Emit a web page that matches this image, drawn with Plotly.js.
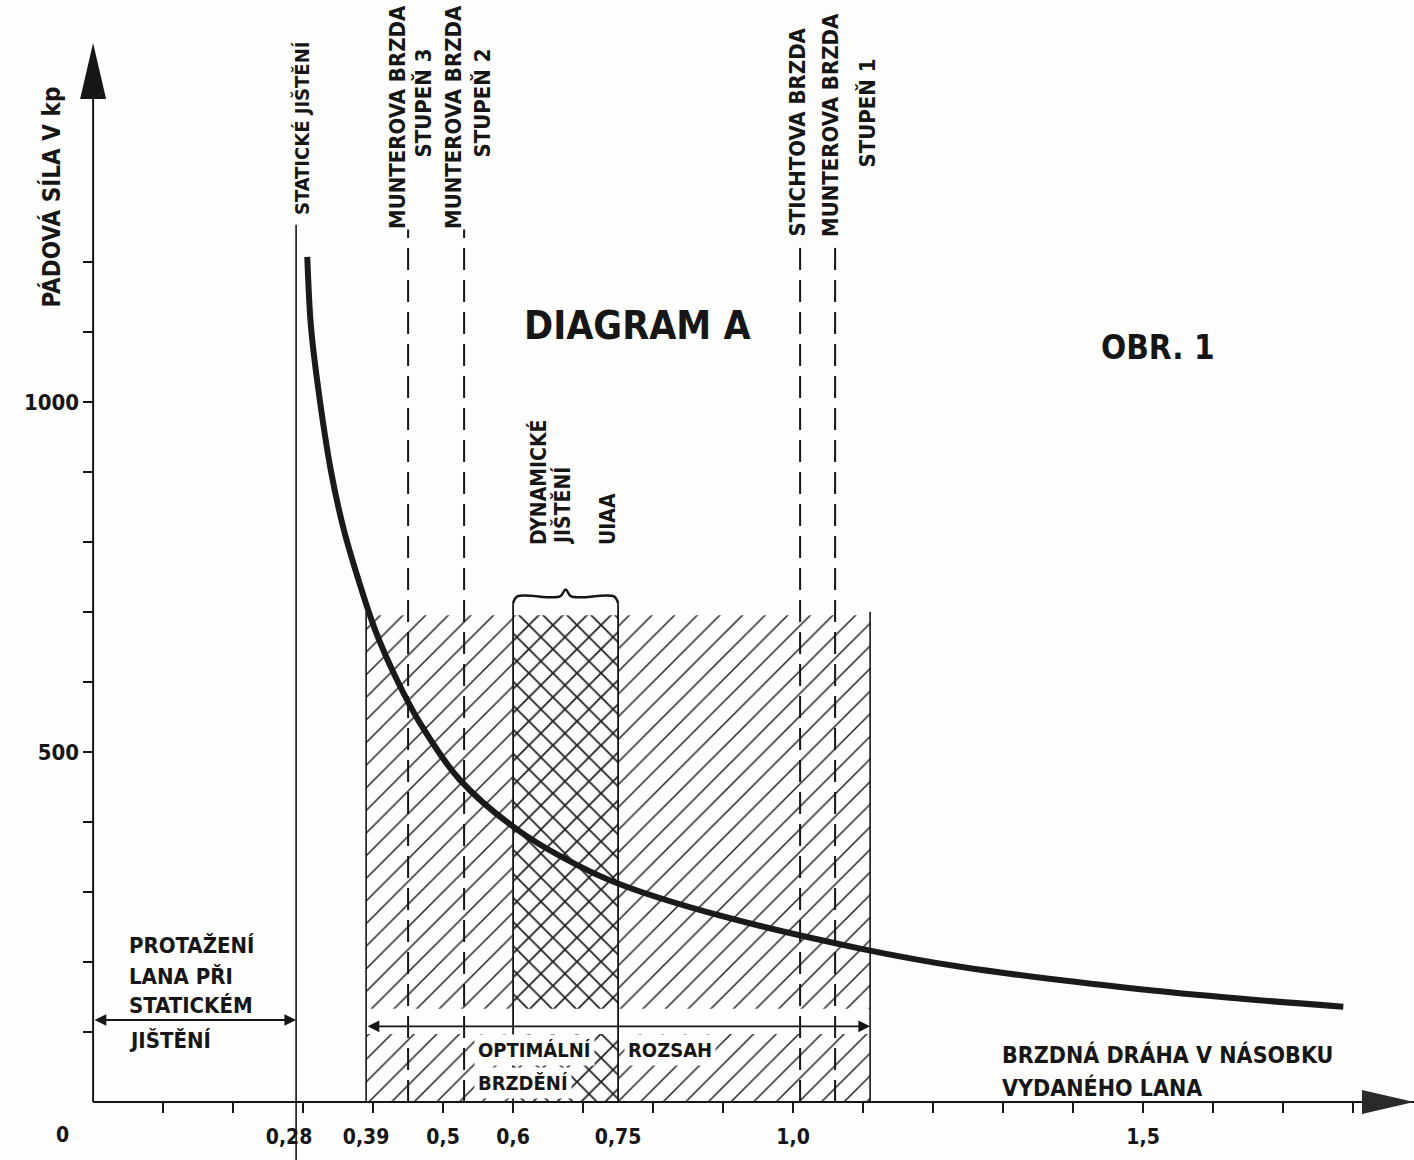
<!DOCTYPE html>
<html>
<head>
<meta charset="utf-8">
<script src="https://cdn.plot.ly/plotly-3.0.1.min.js"></script>
<style>html,body{margin:0;padding:0;background:#fdfdfc}#chart{width:1414px;height:1160px}</style>
</head>
<body>
<div id="chart"></div>
<script>
// ---------------- DATA ----------------
// Pádová síla (kp) vs. brzdná dráha (násobek vydaného lana)
const curveX = [0.306, 0.311, 0.320, 0.340, 0.358, 0.379, 0.403, 0.434, 0.467, 0.524, 0.610, 0.706, 0.763, 0.896, 1.096, 1.239, 1.467, 1.620, 1.786];
const curveY = [1207, 1110, 1031, 900, 818, 746, 674, 603, 541, 460, 386, 331, 307, 266, 219, 193, 164, 149, 136];

// vertical markers
const staticX = 0.29;                 // statické jištění
const staticTop = 1253;
const brakeX = [0.45, 0.53, 1.01, 1.06];   // Munter 3, Munter 2, Sticht, Munter 1
const brakeTop = [1246, 1246, 1232, 1232];

// ranges
const optRange = [0.39, 1.11];        // optimální rozsah brzdění
const dynRange = [0.60, 0.75];        // dynamické jištění UIAA
const hatchTop = 695;
const hatchUpperBase = 133;
const hatchLowerTop = 97;
const optArrowY = 108;
const staticArrowY = 117;
const bracketY = 722;

// axis ticks
const xMinorTicks = [0.1, 0.2, 0.3, 0.4, 0.5, 0.6, 0.7, 0.8, 0.9, 1.0, 1.1, 1.2, 1.3, 1.4, 1.5, 1.6, 1.7, 1.8];
const xTickVals = [0.28, 0.39, 0.5, 0.6, 0.75, 1.0, 1.5];
const xTickText = ['0,28', '0,39', '0,5', '0,6', '0,75', '1,0', '1,5'];
const yMinorTicks = [100, 200, 300, 400, 500, 600, 700, 800, 900, 1000, 1100, 1200];
const yTickVals = [500, 1000];
const yTickText = ['500', '1000'];

// ---------------- LAYOUT HELPERS ----------------
const W = 1414, H = 1160;
const xRange = [-0.133, 1.887];
const yRange = [-83, 1574];
const px2x = p => xRange[0] + p / W * (xRange[1] - xRange[0]);
const py2y = p => yRange[1] - p / H * (yRange[1] - yRange[0]);
const ink = '#161616';
const FONT = '"DejaVu Sans Condensed", "Liberation Sans Narrow", "DejaVu Sans", sans-serif';
const f = (size) => ({family: FONT, size: size, color: ink, weight: 'bold'});

const xAxisPos = (0 - yRange[0]) / (yRange[1] - yRange[0]);
const yAxisPos = (0 - xRange[0]) / (xRange[1] - xRange[0]);
const yAxisTop = py2y(43);

// ---------------- TRACES ----------------
const seg = (a, b) => ({c: (a + b) / 2, w: b - a});
const hatchSegs = [seg(optRange[0], dynRange[0]), seg(dynRange[1], optRange[1])];
const crossSeg = seg(dynRange[0], dynRange[1]);

const patt = (shape, size, solidity) => ({
  color: 'rgba(0,0,0,0)',
  line: {width: 0},
  pattern: {shape: shape, fgcolor: '#1e1e1e', bgcolor: 'rgba(0,0,0,0)', size: size, solidity: solidity, fillmode: 'replace'}
});

const traces = [
  {
    type: 'bar', name: 'optimální rozsah',
    x: [hatchSegs[0].c, hatchSegs[1].c, hatchSegs[0].c, hatchSegs[1].c],
    width: [hatchSegs[0].w, hatchSegs[1].w, hatchSegs[0].w, hatchSegs[1].w],
    base: [hatchUpperBase, hatchUpperBase, 0, 0],
    y: [hatchTop - hatchUpperBase, hatchTop - hatchUpperBase, hatchLowerTop, hatchLowerTop],
    marker: patt('/', 16, 0.09), hoverinfo: 'skip', showlegend: false
  },
  {
    type: 'bar', name: 'dynamické jištění UIAA',
    x: [crossSeg.c, crossSeg.c],
    width: [crossSeg.w, crossSeg.w],
    base: [hatchUpperBase, 0],
    y: [hatchTop - hatchUpperBase, hatchLowerTop],
    marker: patt('x', 17, 0.2), hoverinfo: 'skip', showlegend: false
  },
  {
    type: 'scatter', mode: 'lines', name: 'bracket',
    x: [dynRange[0], dynRange[0] + 0.006, (dynRange[0] + dynRange[1]) / 2 - 0.008, (dynRange[0] + dynRange[1]) / 2, (dynRange[0] + dynRange[1]) / 2 + 0.008, dynRange[1] - 0.006, dynRange[1]],
    y: [bracketY - 10, bracketY, bracketY, bracketY + 10, bracketY, bracketY, bracketY - 10],
    line: {color: ink, width: 2.5, shape: 'spline'}, hoverinfo: 'skip', showlegend: false
  },
  {
    type: 'scatter', mode: 'lines', name: 'pádová síla',
    x: curveX, y: curveY,
    line: {color: '#1a1a1a', width: 6, shape: 'spline', smoothing: 1},
    hoverinfo: 'skip', showlegend: false
  },
  {type: 'scatter', x: [], y: [], xaxis: 'x2', yaxis: 'y2', showlegend: false}
];

// ---------------- SHAPES ----------------
const shapes = [];
// axes
shapes.push({type: 'line', xref: 'x', yref: 'y', x0: 0, x1: 0, y0: 0, y1: yAxisTop - 40, line: {color: ink, width: 2}});
shapes.push({type: 'line', xref: 'x', yref: 'y', x0: 0, x1: xRange[1], y0: 0, y1: 0, line: {color: ink, width: 2}});
shapes.push({type: 'path', xref: 'x', yref: 'y', xsizemode: 'pixel', ysizemode: 'pixel', xanchor: 0, yanchor: yAxisTop,
  path: 'M0,0 L-13,-56 L13,-56 Z', fillcolor: ink, line: {width: 0}});
shapes.push({type: 'path', xref: 'x', yref: 'y', xsizemode: 'pixel', ysizemode: 'pixel', xanchor: xRange[1], yanchor: 0,
  path: 'M0,0 L-52,12 L-52,-12 Z', fillcolor: '#2a2a2a', line: {width: 0}});
// static line
shapes.push({type: 'line', xref: 'x', yref: 'y', x0: staticX, x1: staticX, y0: yRange[0], y1: staticTop, line: {color: ink, width: 1.6}});
// brake dashed lines
brakeX.forEach((bx, i) => shapes.push({type: 'line', xref: 'x', yref: 'y', x0: bx, x1: bx, y0: 0, y1: brakeTop[i],
  line: {color: ink, width: 2, dash: '22px,10px'}}));
// hatch borders
optRange.forEach(ox => shapes.push({type: 'line', xref: 'x', yref: 'y', x0: ox, x1: ox, y0: 0, y1: hatchTop + 5, line: {color: ink, width: 1.6}}));
dynRange.forEach(dx => shapes.push({type: 'line', xref: 'x', yref: 'y', x0: dx, x1: dx, y0: 0, y1: bracketY - 10, line: {color: ink, width: 1.8}}));

// ---------------- ANNOTATIONS ----------------
const ann = [];
const txt = (text, pxX, pxY, size, opts) => Object.assign({
  text: text, xref: 'x', yref: 'y', x: px2x(pxX), y: py2y(pxY), showarrow: false, font: f(size)
}, opts || {});
const vtxt = (text, pxX, pxBottom, size) => txt(text, pxX, pxBottom, size, {textangle: -90, xanchor: 'center', yanchor: 'bottom'});

ann.push(vtxt('PÁDOVÁ SÍLA V kp', 51, 310, 24));
ann.push(vtxt('STATICKÉ JIŠTĚNÍ', 302, 217, 20));
ann.push(vtxt('MUNTEROVA BRZDA', 397, 231, 22));
ann.push(vtxt('STUPEŇ 3', 423, 160, 22));
ann.push(vtxt('MUNTEROVA BRZDA', 453, 231, 22));
ann.push(vtxt('STUPEŇ 2', 482, 160, 22));
ann.push(vtxt('STICHTOVA BRZDA', 797, 239, 22));
ann.push(vtxt('MUNTEROVA BRZDA', 830, 239, 22));
ann.push(vtxt('STUPEŇ 1', 867, 170, 22));
ann.push(vtxt('DYNAMICKÉ', 538, 547, 21));
ann.push(vtxt('JIŠTĚNÍ', 562, 547, 21));
ann.push(vtxt('UIAA', 608, 547, 21));

ann.push(txt('DIAGRAM A', 637, 325, 39));
ann.push(txt('OBR. 1', 1158, 347, 33));

const leftLines = ['PROTAŽENÍ', 'LANA PŘI', 'STATICKÉM', 'JIŠTĚNÍ'];
const leftY = [945, 976, 1005, 1040];
leftLines.forEach((t, i) => ann.push(txt(t, 127, leftY[i], 22, {xanchor: 'left'})));

ann.push(txt('OPTIMÁLNÍ', 474, 1050, 20, {xanchor: 'left', bgcolor: '#fdfdfc', borderpad: 3}));
ann.push(txt('ROZSAH', 624, 1050, 20, {xanchor: 'left', bgcolor: '#fdfdfc', borderpad: 3}));
ann.push(txt('BRZDĚNÍ', 474, 1083, 20, {xanchor: 'left', bgcolor: '#fdfdfc', borderpad: 3}));

ann.push(txt('BRZDNÁ DRÁHA V NÁSOBKU', 1000, 1054, 23, {xanchor: 'left'}));
ann.push(txt('VYDANÉHO LANA', 1000, 1087, 23, {xanchor: 'left'}));

ann.push(txt('0', 62, 1135, 21));

// double arrows
ann.push({text: '', xref: 'x', yref: 'y', axref: 'x', ayref: 'y', x: staticX, y: staticArrowY, ax: 0, ay: staticArrowY,
  showarrow: true, arrowside: 'end+start', arrowhead: 2, startarrowhead: 2, arrowsize: 1.3, startarrowsize: 1.3, arrowwidth: 1.8, arrowcolor: ink});
ann.push({text: '', xref: 'x', yref: 'y', axref: 'x', ayref: 'y', x: optRange[1], y: optArrowY, ax: optRange[0], ay: optArrowY,
  showarrow: true, arrowside: 'end+start', arrowhead: 2, startarrowhead: 2, arrowsize: 1.3, startarrowsize: 1.3, arrowwidth: 1.8, arrowcolor: ink});

// ---------------- LAYOUT ----------------
const baseAxis = {showgrid: false, zeroline: false, showline: false, fixedrange: true};
const layout = {
  width: W, height: H,
  margin: {l: 0, r: 0, t: 0, b: 0},
  paper_bgcolor: '#fdfdfc', plot_bgcolor: '#fdfdfc',
  barmode: 'overlay',
  showlegend: false,
  hovermode: false,
  xaxis: Object.assign({}, baseAxis, {range: xRange, anchor: 'free', position: xAxisPos,
    tickmode: 'array', tickvals: xMinorTicks, ticks: 'outside', ticklen: 10, tickwidth: 2, tickcolor: ink, showticklabels: false}),
  xaxis2: Object.assign({}, baseAxis, {range: xRange, overlaying: 'x', anchor: 'free', position: xAxisPos, side: 'bottom',
    tickmode: 'array', tickvals: xTickVals, ticktext: xTickText, ticks: '', ticklabelstandoff: 20, tickfont: f(21)}),
  yaxis: Object.assign({}, baseAxis, {range: yRange, anchor: 'free', position: yAxisPos,
    tickmode: 'array', tickvals: yMinorTicks, ticks: 'outside', ticklen: 10, tickwidth: 2, tickcolor: ink, showticklabels: false}),
  yaxis2: Object.assign({}, baseAxis, {range: yRange, overlaying: 'y', anchor: 'free', position: yAxisPos, side: 'left',
    tickmode: 'array', tickvals: yTickVals, ticktext: yTickText, ticks: '', ticklabelstandoff: 14, tickfont: f(22)}),
  shapes: shapes,
  annotations: ann
};

Plotly.newPlot('chart', traces, layout, {staticPlot: true, displayModeBar: false});
</script>
</body>
</html>
